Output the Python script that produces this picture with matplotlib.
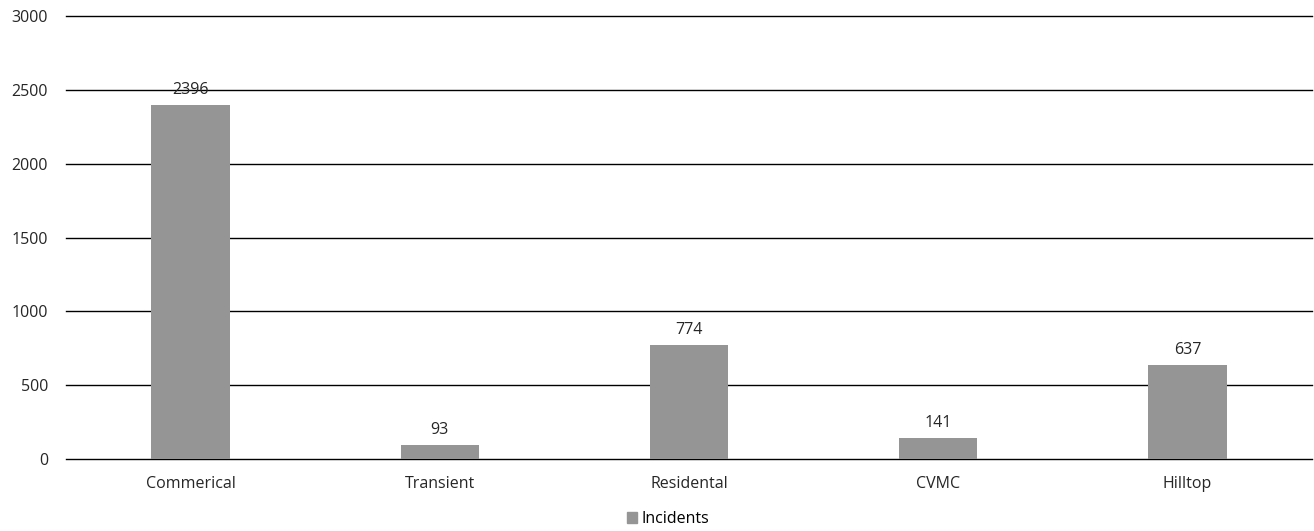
import matplotlib
matplotlib.use("Agg")
import matplotlib.pyplot as plt
from matplotlib.patches import Patch

categories = ["Commerical", "Transient", "Residental", "CVMC", "Hilltop"]
incidents = [2396, 93, 774, 141, 637]
yticks = [0, 500, 1000, 1500, 2000, 2500, 3000]

plt.rcParams['font.family'] = ['Open Sans', 'DejaVu Sans']
bar_color = "#959595"
fs = 11.5

fig = plt.figure(figsize=(13.14, 5.31), dpi=100)
ax = fig.add_axes([66/1314, 1-459/531, (1312-66)/1314, (459-16)/531])

x = list(range(len(categories)))
bars = ax.bar(x, incidents, width=0.315, color=bar_color, zorder=3, label="Incidents")
for xi, v in zip(x, incidents):
    ax.annotate(str(v), (xi, v), xytext=(0, 5), textcoords="offset points",
                ha="center", va="bottom", fontsize=fs, color="#262626", zorder=4)

ax.set_ylim(0, 3000)
ax.set_xlim(-0.5, len(categories) - 0.5)
ax.set_yticks(yticks)
ax.set_yticklabels([str(t) for t in yticks])
ax.set_xticks(x)
ax.set_xticklabels(categories)
ax.grid(axis="y", color="#000000", linewidth=1.0, zorder=0)
for gl in ax.get_ygridlines():
    gl.set_clip_on(False)
ax.set_axisbelow(True)
for s in ax.spines.values():
    s.set_visible(False)
ax.tick_params(axis="both", length=0, labelsize=fs, colors="#262626")
ax.tick_params(axis="y", pad=13)
ax.tick_params(axis="x", pad=12)

fig.legend(handles=[Patch(color=bar_color, label="Incidents")], loc="center",
           bbox_to_anchor=(668/1314, 1-519/531), frameon=False, fontsize=fs,
           handlelength=0.65, handleheight=0.65, handletextpad=0.3)

fig.savefig("out.png", dpi=100)
